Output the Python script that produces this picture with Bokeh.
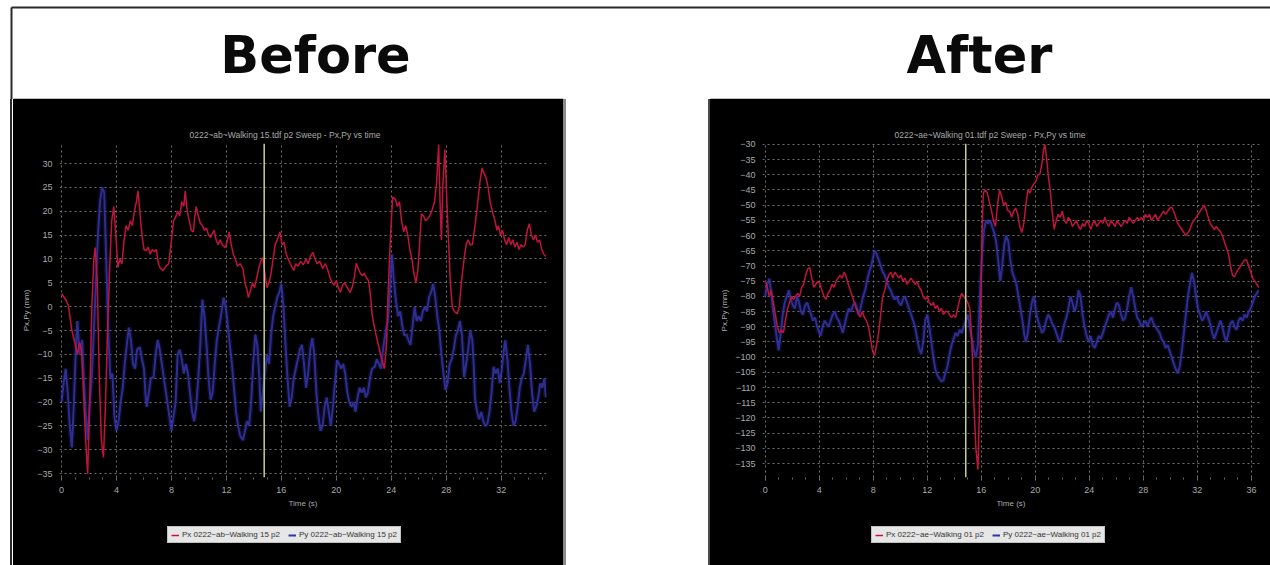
from bokeh.plotting import figure
from bokeh.layouts import column, row
from bokeh.models import (Range1d, Label, Span, Legend, LegendItem, FixedTicker, Spacer)
from bokeh.embed import file_html
from bokeh.resources import INLINE

# ---------------- data ----------------
HEADERS = ["Before", "After"]
TITLES = ["0222~ab~Walking 15.tdf p2  Sweep - Px,Py vs time",
          "0222~ae~Walking 01.tdf p2  Sweep - Px,Py vs time"]
LEGENDS_L = ["Px 0222~ab~Walking 15 p2", "Py 0222~ab~Walking 15 p2"]
LEGENDS_R = ["Px 0222~ae~Walking 01 p2", "Py 0222~ae~Walking 01 p2"]
X_LABEL = "Time (s)"
Y_LABEL = "Px,Py (mm)"
SWEEP_MARK = [14.75, 14.85]

X_TICKS_L = [0, 4, 8, 12, 16, 20, 24, 28, 32]
X_TICKS_R = [0, 4, 8, 12, 16, 20, 24, 28, 32, 36]
Y_TICKS_L = [30, 25, 20, 15, 10, 5, 0, -5, -10, -15, -20, -25, -30, -35]
Y_TICKS_R = [-30, -35, -40, -45, -50, -55, -60, -65, -70, -75, -80, -85, -90, -95,
             -100, -105, -110, -115, -120, -125, -130, -135]

# Before: Px (red)
L_PX_T = [0.0, 0.3, 0.5, 0.75, 1.0, 1.15, 1.3, 1.45, 1.6, 1.75, 1.9, 2.05, 2.2, 2.35, 2.45, 2.6, 2.75, 2.9, 3.05, 3.2,
          3.35, 3.5, 3.65, 3.8, 3.95, 4.1, 4.25, 4.4, 4.55, 4.7, 4.85, 5.0, 5.15, 5.3, 5.45, 5.56, 5.7, 5.85, 6.0, 6.15,
          6.3, 6.45, 6.6, 6.75, 6.9, 7.05, 7.2, 7.4, 7.6, 7.8, 8.0, 8.15, 8.3, 8.45, 8.6, 8.75, 8.9, 9.0, 9.15, 9.3,
          9.45, 9.6, 9.7, 9.8, 9.95, 10.1, 10.25, 10.4, 10.55, 10.7, 10.85, 11.0, 11.1, 11.25, 11.4, 11.55, 11.7, 11.9, 12.05, 12.2,
          12.35, 12.5, 12.65, 12.8, 13.0, 13.2, 13.35, 13.5, 13.6, 13.75, 13.9, 14.05, 14.2, 14.35, 14.5, 14.65, 14.8, 14.95, 15.1, 15.25,
          15.4, 15.55, 15.7, 15.9, 16.05, 16.2, 16.35, 16.5, 16.65, 16.9, 17.05, 17.2, 17.4, 17.6, 17.8, 17.95, 18.1, 18.3, 18.45, 18.6,
          18.8, 19.0, 19.2, 19.4, 19.55, 19.7, 19.85, 20.0, 20.15, 20.3, 20.45, 20.6, 20.8, 21.0, 21.15, 21.3, 21.45, 21.6, 21.75, 21.9,
          22.05, 22.2, 22.35, 22.5, 22.6, 22.75, 22.9, 23.1, 23.3, 23.5, 23.65, 23.8, 23.95, 24.1, 24.3, 24.45, 24.6, 24.75, 24.9, 25.05,
          25.2, 25.35, 25.5, 25.65, 25.8, 25.95, 26.1, 26.2, 26.35, 26.5, 26.65, 26.8, 27.0, 27.15, 27.3, 27.45, 27.55, 27.65, 27.75, 27.9,
          28.05, 28.15, 28.3, 28.45, 28.6, 28.8, 28.95, 29.1, 29.3, 29.45, 29.6, 29.75, 29.9, 30.1, 30.3, 30.45, 30.6, 30.75, 30.9, 31.05,
          31.2, 31.4, 31.55, 31.7, 31.8, 31.95, 32.1, 32.25, 32.4, 32.55, 32.7, 32.85, 33.0, 33.15, 33.3, 33.45, 33.6, 33.75, 33.9, 34.05,
          34.2, 34.35, 34.5, 34.65, 34.8, 34.95, 35.1, 35.25]
L_PX = [2.7, 1.5, 0.2, -5, -8, -10, -7.5, -9, -18, -28, -35, -20, 0, 10, 12.4, 5, -15, -28, -31.6, -20,
        -5, 8, 18, 21, 15, 8.2, 10, 9, 14, 17, 16, 18, 17, 20, 22, 24.3, 20, 15, 12, 11.7,
        12.5, 11, 12, 11.5, 12, 9, 8, 7.6, 8.5, 9, 14, 18, 18.7, 20, 19, 22, 21, 24.3, 20, 18,
        16, 15.7, 19, 21, 19, 17.5, 17, 16, 16.5, 15, 14.5, 15.5, 16, 14, 13, 14, 13, 12.4, 13.5, 15.7,
        13, 11, 10, 8.5, 9, 8, 5, 3.5, 1.9, 3.4, 5, 4, 6, 8, 9.5, 10.3, 7, 4, 5, 7,
        10, 13, 14, 15.7, 13, 13.5, 11, 10, 9, 7.6, 9, 8.5, 9.5, 8.8, 10, 9, 10.5, 11.4, 10, 9,
        9.5, 8, 9, 7.5, 6, 5, 4.5, 5.5, 4, 3, 4.5, 5, 4, 3, 4, 6, 9.1, 8, 7, 6.5,
        7, 6, 5.5, 2, -1.5, -4, -6, -8.5, -11, -13, -8, 5, 15, 23, 22.5, 21, 22, 18, 15.7, 17,
        15, 12, 10, 7, 5, 8, 15, 19.5, 19, 18, 18.5, 19, 20.5, 22, 26, 34, 22, 14, 25, 33,
        22, 15, 5, -0.1, -1, -1.5, 0, 5, 10, 13, 14, 13, 13, 17, 22, 26, 29, 28, 27, 25,
        22, 19.5, 18, 16, 17, 15, 16, 14, 13, 14.5, 13, 14, 12.5, 13.5, 12, 13, 12.5, 13, 16, 17.4,
        15, 14, 15, 13.5, 14, 12, 11, 10.5]

# Before: Py (blue)
L_PY_T = [0.0, 0.15, 0.3, 0.45, 0.6, 0.75, 0.9, 1.05, 1.15, 1.3, 1.4, 1.5, 1.6, 1.75, 1.9, 2.05, 2.2, 2.35, 2.5, 2.65,
          2.8, 2.95, 3.1, 3.25, 3.4, 3.55, 3.7, 3.85, 4.0, 4.15, 4.3, 4.45, 4.6, 4.75, 4.9, 5.05, 5.2, 5.35, 5.5, 5.7,
          5.85, 6.0, 6.1, 6.2, 6.35, 6.5, 6.7, 6.85, 7.0, 7.15, 7.3, 7.5, 7.7, 7.85, 8.0, 8.15, 8.3, 8.45, 8.6, 8.75,
          8.9, 9.05, 9.2, 9.35, 9.5, 9.65, 9.8, 9.95, 10.1, 10.25, 10.4, 10.55, 10.7, 10.85, 11.0, 11.15, 11.3, 11.45, 11.6, 11.8,
          11.95, 12.1, 12.25, 12.4, 12.55, 12.7, 12.85, 13.0, 13.2, 13.35, 13.5, 13.65, 13.8, 13.95, 14.1, 14.25, 14.4, 14.5, 14.65, 14.8,
          14.95, 15.1, 15.25, 15.4, 15.55, 15.7, 15.85, 16.0, 16.15, 16.3, 16.45, 16.6, 16.75, 16.9, 17.05, 17.2, 17.35, 17.5, 17.65, 17.8,
          17.95, 18.1, 18.25, 18.4, 18.55, 18.7, 18.85, 19.0, 19.15, 19.3, 19.45, 19.6, 19.75, 19.9, 20.05, 20.2, 20.35, 20.5, 20.65, 20.8,
          20.95, 21.1, 21.25, 21.4, 21.55, 21.7, 21.85, 22.0, 22.15, 22.3, 22.45, 22.6, 22.8, 22.95, 23.1, 23.25, 23.4, 23.6, 23.75, 23.9,
          24.05, 24.2, 24.35, 24.5, 24.65, 24.8, 24.95, 25.1, 25.25, 25.4, 25.55, 25.7, 25.85, 26.0, 26.15, 26.3, 26.45, 26.6, 26.75, 26.9,
          27.05, 27.2, 27.35, 27.5, 27.65, 27.8, 27.95, 28.1, 28.25, 28.4, 28.55, 28.7, 28.85, 29.0, 29.15, 29.3, 29.45, 29.6, 29.75, 29.9,
          30.0, 30.1, 30.25, 30.4, 30.55, 30.7, 30.85, 31.0, 31.15, 31.3, 31.45, 31.6, 31.75, 31.9, 32.05, 32.2, 32.3, 32.45, 32.6, 32.75,
          32.9, 33.05, 33.2, 33.35, 33.5, 33.65, 33.8, 33.95, 34.1, 34.25, 34.4, 34.55, 34.7, 34.85, 35.0, 35.15, 35.25]
L_PY = [-20, -16, -13, -18, -25, -29.5, -20, -8, -3, -10, -8, -7, -14, -22, -28, -20, -15, -5, 5, 15,
        22, 25, 24, 10, -5, -15, -14, -23, -26, -24, -20, -17, -12, -8, -4.4, -7, -12, -13, -9, -8.5,
        -11, -13, -18, -21, -18, -15, -14.8, -10, -7, -9, -12, -16, -20, -23, -26, -23, -20, -10, -9, -11,
        -14, -12, -14, -18, -22, -24, -21, -15, -8, 1.5, -2, -8, -15, -19.5, -18, -12, -7, -4.4, -2, 1.9,
        0, -4, -8, -12, -17, -22, -25, -27, -28, -26, -24, -25, -20, -12, -5.8, -8, -15, -22, -18, -14,
        -10, -12, -6, -2, 0, 1.9, 3, 4.8, 0, -8, -15, -21, -19, -15, -13, -11, -9, -8, -12, -17,
        -14, -9, -6.6, -10, -18, -23, -26, -25, -21, -19, -22, -25, -21, -16, -11.2, -12, -13, -12, -14, -18,
        -20, -21, -20, -22, -19, -17, -18, -17, -19, -18, -15, -13, -12.6, -11, -12, -13, -9, -5, -3, 3,
        11, 5, 1, -2, -1, -4, -6, -5.8, -7, -8, -4, -0.1, -3, -2, -3, -1, 0, -1, 2, 3,
        4.8, 2, -2, -5, -10, -14, -17.5, -16, -12, -11, -9, -6, -5, -3, -6, -14.8, -12, -9, -5, -7,
        -12, -19.5, -22, -23.6, -22, -24, -25, -24.5, -22, -18, -12.6, -14, -13, -16, -13, -9, -7, -11, -17, -22,
        -25, -24, -21, -17, -15, -14, -11, -8, -12, -18, -22, -21, -19, -16, -17, -15, -19]

# After: Px (red)
R_PX_T = [0.0, 0.15, 0.3, 0.45, 0.6, 0.75, 0.9, 1.05, 1.2, 1.35, 1.5, 1.65, 1.8, 1.95, 2.1, 2.25, 2.4, 2.55, 2.7, 2.85,
          3.0, 3.15, 3.3, 3.45, 3.6, 3.75, 3.9, 4.05, 4.2, 4.35, 4.5, 4.65, 4.8, 4.95, 5.1, 5.25, 5.4, 5.55, 5.7, 5.85,
          6.0, 6.15, 6.3, 6.45, 6.6, 6.75, 6.9, 7.05, 7.2, 7.35, 7.5, 7.65, 7.8, 7.95, 8.1, 8.25, 8.4, 8.55, 8.7, 8.85,
          9.0, 9.15, 9.3, 9.45, 9.6, 9.75, 9.9, 10.05, 10.2, 10.35, 10.5, 10.65, 10.8, 10.95, 11.1, 11.25, 11.4, 11.55, 11.7, 11.85,
          12.0, 12.15, 12.3, 12.45, 12.6, 12.75, 12.9, 13.05, 13.2, 13.35, 13.5, 13.65, 13.8, 13.95, 14.1, 14.25, 14.4, 14.55, 14.7, 14.85,
          15.0, 15.15, 15.3, 15.45, 15.6, 15.75, 15.85, 15.95, 16.05, 16.15, 16.3, 16.45, 16.6, 16.75, 16.9, 17.05, 17.2, 17.35, 17.5, 17.65,
          17.8, 17.95, 18.1, 18.25, 18.4, 18.55, 18.7, 18.85, 19.0, 19.15, 19.3, 19.45, 19.6, 19.75, 19.9, 20.05, 20.2, 20.35, 20.5, 20.6,
          20.7, 20.8, 20.95, 21.1, 21.25, 21.4, 21.55, 21.7, 21.85, 22.0, 22.15, 22.3, 22.45, 22.6, 22.75, 22.9, 23.05, 23.2, 23.35, 23.5,
          23.65, 23.8, 23.95, 24.1, 24.25, 24.4, 24.55, 24.7, 24.85, 25.0, 25.15, 25.3, 25.45, 25.6, 25.75, 25.9, 26.05, 26.2, 26.35, 26.5,
          26.65, 26.8, 26.95, 27.1, 27.25, 27.4, 27.55, 27.7, 27.85, 28.0, 28.15, 28.3, 28.45, 28.6, 28.75, 28.9, 29.05, 29.2, 29.35, 29.5,
          29.65, 29.8, 29.95, 30.1, 30.25, 30.4, 30.55, 30.7, 30.85, 31.0, 31.15, 31.3, 31.45, 31.6, 31.75, 31.9, 32.05, 32.2, 32.35, 32.5,
          32.65, 32.8, 32.95, 33.1, 33.25, 33.4, 33.55, 33.7, 33.85, 34.0, 34.15, 34.3, 34.45, 34.6, 34.75, 34.9, 35.05, 35.2, 35.35, 35.5,
          35.65, 35.8, 35.95, 36.1, 36.25, 36.4, 36.55]
R_PX = [-75, -77, -80, -78, -82, -86, -90, -92, -91, -92, -88, -84, -82, -80, -81, -80, -79, -80, -77, -76,
        -73, -71, -70.5, -74, -77, -76, -75, -75.8, -78, -80, -81, -79, -78, -76, -77, -75, -74, -73, -74, -72,
        -73.6, -76, -78, -80, -82, -84, -86, -86.8, -85, -87, -88, -90, -94, -98, -99.4, -96, -92, -86, -80, -78,
        -75, -73, -72, -74, -72, -73, -74, -73, -75, -74, -76, -75, -74, -75, -76, -75, -77, -78, -80, -81,
        -80, -82, -83, -82, -84, -83, -85, -84, -86, -85, -85, -86, -87, -86, -87, -84, -81, -79, -80, -81,
        -82, -84, -95, -115, -130, -137, -120, -90, -60, -46, -45, -46, -49, -51.7, -55, -57, -50, -45, -47, -50,
        -49, -51.7, -52, -54, -52, -51, -53, -57, -59, -56, -50, -45, -46, -44, -43, -42, -40, -39.6, -36, -32,
        -30, -33, -40, -45, -52, -58, -55, -53, -54, -52, -55, -56, -54, -55, -57, -56, -55, -57, -58, -56,
        -57, -55, -56, -58, -56, -55, -57, -56, -55, -56, -54, -56, -57, -55, -56, -57, -55, -56, -57, -56,
        -55, -56, -54, -55, -56, -55, -54, -55, -54, -55, -53, -54, -53, -55, -54, -53, -55, -54, -53, -52,
        -53, -52, -51, -50.6, -52, -54, -56, -57, -58, -59, -60, -59, -58, -56, -55, -54, -53, -52, -51, -50,
        -51.7, -54, -56, -57, -58, -57, -58, -58.6, -60, -62, -64, -66, -70, -73, -73.6, -72, -71, -70, -69, -68,
        -68, -70, -72, -74, -75, -76, -77]

# After: Py (blue)
R_PY_T = [0.0, 0.15, 0.3, 0.45, 0.6, 0.75, 0.9, 1.0, 1.15, 1.3, 1.45, 1.6, 1.75, 1.9, 2.05, 2.2, 2.35, 2.5, 2.65, 2.8,
          2.95, 3.1, 3.25, 3.4, 3.55, 3.7, 3.85, 4.0, 4.1, 4.25, 4.4, 4.55, 4.7, 4.85, 5.0, 5.15, 5.3, 5.45, 5.6, 5.75,
          5.9, 6.05, 6.2, 6.35, 6.5, 6.65, 6.8, 6.95, 7.1, 7.25, 7.4, 7.55, 7.7, 7.85, 8.0, 8.1, 8.25, 8.4, 8.55, 8.7,
          8.85, 9.0, 9.15, 9.3, 9.45, 9.6, 9.75, 9.9, 10.05, 10.2, 10.35, 10.5, 10.65, 10.8, 10.95, 11.1, 11.25, 11.4, 11.55, 11.7,
          11.85, 12.0, 12.15, 12.3, 12.45, 12.6, 12.75, 12.9, 13.05, 13.2, 13.35, 13.5, 13.65, 13.8, 13.95, 14.1, 14.25, 14.4, 14.55, 14.7,
          14.85, 15.0, 15.15, 15.3, 15.45, 15.6, 15.75, 15.9, 16.05, 16.2, 16.35, 16.5, 16.65, 16.8, 16.95, 17.1, 17.25, 17.4, 17.55, 17.7,
          17.85, 18.0, 18.15, 18.3, 18.45, 18.6, 18.75, 18.9, 19.05, 19.2, 19.3, 19.45, 19.6, 19.75, 19.9, 20.05, 20.2, 20.35, 20.5, 20.65,
          20.8, 20.95, 21.1, 21.25, 21.4, 21.55, 21.7, 21.85, 22.0, 22.15, 22.3, 22.45, 22.6, 22.75, 22.9, 23.05, 23.2, 23.35, 23.5, 23.65,
          23.8, 23.95, 24.1, 24.25, 24.4, 24.55, 24.7, 24.85, 25.0, 25.15, 25.3, 25.45, 25.6, 25.75, 25.9, 26.05, 26.2, 26.35, 26.5, 26.65,
          26.8, 26.95, 27.1, 27.25, 27.4, 27.55, 27.7, 27.85, 28.0, 28.15, 28.3, 28.45, 28.6, 28.75, 28.9, 29.05, 29.2, 29.35, 29.5, 29.65,
          29.8, 29.95, 30.1, 30.25, 30.4, 30.55, 30.7, 30.85, 31.0, 31.15, 31.3, 31.45, 31.6, 31.75, 31.9, 32.05, 32.2, 32.35, 32.5, 32.65,
          32.8, 32.95, 33.1, 33.25, 33.4, 33.55, 33.7, 33.85, 34.0, 34.15, 34.3, 34.45, 34.6, 34.75, 34.9, 35.05, 35.2, 35.35, 35.5, 35.65,
          35.8, 35.95, 36.1, 36.25, 36.4, 36.55]
R_PY = [-80, -76, -74.2, -79, -85, -90, -95, -97.8, -92, -86, -82, -80, -78, -81, -83, -84, -80, -82, -85, -86,
        -83, -82, -84, -86, -88, -87, -90, -92, -93, -90, -88, -89, -90, -88, -86, -85, -87, -88, -90, -92,
        -89, -86, -84, -85, -83, -82, -84, -86, -83, -80, -78, -74.7, -72, -70, -67, -64.9, -66, -68, -70, -72,
        -73, -75, -77, -78, -80, -81, -80, -82, -83, -81, -80, -82, -84, -86, -88, -90, -94, -97, -99, -95,
        -88, -86, -90, -95, -100, -104, -106, -107, -108, -107.6, -105, -103, -99, -96, -94, -92, -93, -91, -92, -90,
        -88, -86, -90, -94, -98, -100, -96, -80, -66, -58, -55, -56, -55, -57, -59, -62, -68, -75, -70, -63,
        -60, -62, -68, -72, -74, -76, -80, -84, -88, -93, -95, -92, -86, -82, -80, -85, -88, -90, -92, -91,
        -88, -86, -87, -89, -90, -92, -94, -95, -92, -89, -87, -84, -80, -82, -85, -83, -78, -80, -86, -90,
        -93, -95, -93, -96, -97, -95, -93, -94, -92, -90, -88, -86, -85, -87, -84, -82, -83, -86, -88, -87,
        -84, -80, -77, -80, -84, -87, -88, -90, -89, -88, -90, -88, -87, -89, -90, -91, -92, -94, -95, -97,
        -96, -98, -100, -102, -104, -105.3, -103, -98, -92, -86, -80, -76, -72.3, -75, -80, -84, -86, -88, -87, -85,
        -87, -89, -92, -94, -92, -90, -88, -90, -93, -95, -92, -89, -88, -90, -91, -88, -87, -88, -86, -87,
        -85, -84, -82, -80, -79, -78]

# ---------------- styling ----------------
RED = "#c0143c"
BLUE = "#3434a6"
TXT = "#a9a9a9"
FONT = "Liberation Sans"
CHART_H = 422   # title + plot + x axis
LEG_H = 44      # strip under the chart that holds the legend
DARK = {"background-color": "black"}


def hide_guides(fig):
    for ax in fig.axis:
        ax.visible = False
    for g in fig.grid:
        g.visible = False
        g.grid_line_color = None
    fig.outline_line_color = None


def make_chart(title, title_offset, xt, yt, xr, yr, series, mark, fw, fh, bl, br, bt):
    p = figure(frame_width=fw, frame_height=fh, x_range=Range1d(*xr), y_range=Range1d(*yr),
               output_backend="svg", toolbar_location=None,
               min_border_left=bl, min_border_right=br, min_border_top=bt,
               min_border_bottom=CHART_H - bt - fh,
               background_fill_color="black", border_fill_color="black",
               outline_line_color=None, styles=DARK)
    p.title.text = title
    p.title.align = "left"
    p.title.offset = title_offset
    p.title.text_color = TXT
    p.title.text_font = FONT
    p.title.text_font_size = "8.5px"
    p.title.text_font_style = "normal"
    p.title.standoff = 8

    minor_x = [float(v) for v in range(0, int(xr[1]) + 1)]
    p.xaxis.ticker = FixedTicker(ticks=xt, minor_ticks=minor_x)
    p.yaxis.ticker = FixedTicker(ticks=yt)
    for ax in (p.xaxis[0], p.yaxis[0]):
        ax.axis_line_color = None
        ax.major_tick_line_color = "#777777"
        ax.minor_tick_line_color = "#666666"
        ax.major_tick_out = 3
        ax.major_tick_in = 0
        ax.minor_tick_out = 2
        ax.minor_tick_in = 0
        ax.major_label_text_color = TXT
        ax.major_label_text_font = FONT
        ax.major_label_text_font_size = "9px"
        ax.axis_label_text_color = TXT
        ax.axis_label_text_font = FONT
        ax.axis_label_text_font_size = "8px"
        ax.axis_label_text_font_style = "normal"
    p.yaxis.minor_tick_line_color = None
    p.yaxis.major_tick_line_color = None
    p.xaxis.axis_label = X_LABEL
    p.yaxis.axis_label = Y_LABEL
    p.xaxis.major_label_standoff = 6
    p.xaxis.axis_label_standoff = 3
    p.yaxis.major_label_standoff = 4
    p.yaxis.axis_label_standoff = 3

    p.grid.grid_line_color = "#707070"
    p.grid.grid_line_dash = "2 3"
    p.grid.grid_line_width = 1

    (pxt, px), (pyt, py) = series
    p.line(pyt, py, line_color=BLUE, line_width=5, line_alpha=0.22)
    p.line(pyt, py, line_color=BLUE, line_width=2, line_alpha=0.85)
    p.line(pxt, px, line_color=RED, line_width=1.5)

    p.add_layout(Span(location=mark, dimension="height", line_color="#c3d08e", line_width=1.5))
    return p


def make_legend_strip(labels, series, fw, bl, br, loc):
    q = figure(frame_width=fw, frame_height=LEG_H, x_range=Range1d(1000, 1001), y_range=Range1d(1000, 1001),
               output_backend="svg", toolbar_location=None,
               min_border_left=bl, min_border_right=br, min_border_top=0, min_border_bottom=0,
               background_fill_color="black", border_fill_color="black", outline_line_color=None,
               styles=DARK)
    hide_guides(q)
    # legend swatches: one sample of each series (a single point draws no line, and it lies
    # outside this strip's ranges anyway)
    (pxt, px), (pyt, py) = series
    r_px = q.line(pxt[:1], px[:1], line_color=RED, line_width=1.5)
    r_py = q.line(pyt[:1], py[:1], line_color=BLUE, line_width=2)
    leg = Legend(items=[LegendItem(label=labels[0], renderers=[r_px]),
                        LegendItem(label=labels[1], renderers=[r_py])],
                 orientation="horizontal", location=loc,
                 background_fill_color="#e6e6e6", background_fill_alpha=1.0,
                 border_line_color="#9a9a9a", label_text_font=FONT,
                 label_text_font_size="8px", label_text_color="#333333",
                 glyph_width=8, glyph_height=8, label_height=8, label_standoff=3,
                 padding=3, spacing=8, margin=0)
    q.add_layout(leg)
    return q


L_SERIES = [(L_PX_T, L_PX), (L_PY_T, L_PY)]
R_SERIES = [(R_PX_T, R_PX), (R_PY_T, R_PY)]

left = make_chart(TITLES[0], 130, X_TICKS_L, Y_TICKS_L, (-0.15, 35.3), (-35.8, 34.2),
                  L_SERIES, SWEEP_MARK[0], 487, 334, 46, 17, 44)
left_leg = make_legend_strip(LEGENDS_L, L_SERIES, 487, 46, 17, (108, 22))
right = make_chart(TITLES[1], 132, X_TICKS_R, Y_TICKS_R, (-0.2, 36.6), (-139.6, -29.7),
                   R_SERIES, SWEEP_MARK[1], 497, 334, 52, 11, 44)
right_leg = make_legend_strip(LEGENDS_R, R_SERIES, 497, 52, 11, (109, 22))

# header with Before / After
head = figure(width=1270, height=99, x_range=Range1d(0, 1270), y_range=Range1d(0, 99),
              output_backend="svg", toolbar_location=None, min_border=0,
              background_fill_color="white", border_fill_color="white", outline_line_color=None)
hide_guides(head)
head.segment(x0=[11, 11], y0=[0, 92], x1=[11, 1270], y1=[92, 92], line_color="#2a2a2a", line_width=2)
head.segment(x0=[13, 710], y0=[0.5, 0.5], x1=[563, 1270], y1=[0.5, 0.5], line_color="#7a7a7a", line_width=1)
for txt, cx in zip(HEADERS, [315, 979]):
    head.add_layout(Label(x=cx, y=44, x_units="screen", y_units="screen", text=txt,
                          text_align="center", text_baseline="middle",
                          text_font="DejaVu Sans", text_font_style="bold",
                          text_font_size="51px", text_color="#0a0a0a"))

H = CHART_H + LEG_H
layout = column(head, row(Spacer(width=10, height=H),
                          Spacer(width=2, height=H, styles={"background-color": "#2a2a2a"}),
                          Spacer(width=1, height=H),
                          column(left, left_leg, styles=DARK),
                          Spacer(width=3, height=H, styles={"background-color": "#8a8a8a"}),
                          Spacer(width=142, height=H),
                          Spacer(width=2, height=H, styles={"background-color": "#4a4a4a"}),
                          column(right, right_leg, styles=DARK)))
open("out.html", "w").write(file_html(layout, INLINE))
